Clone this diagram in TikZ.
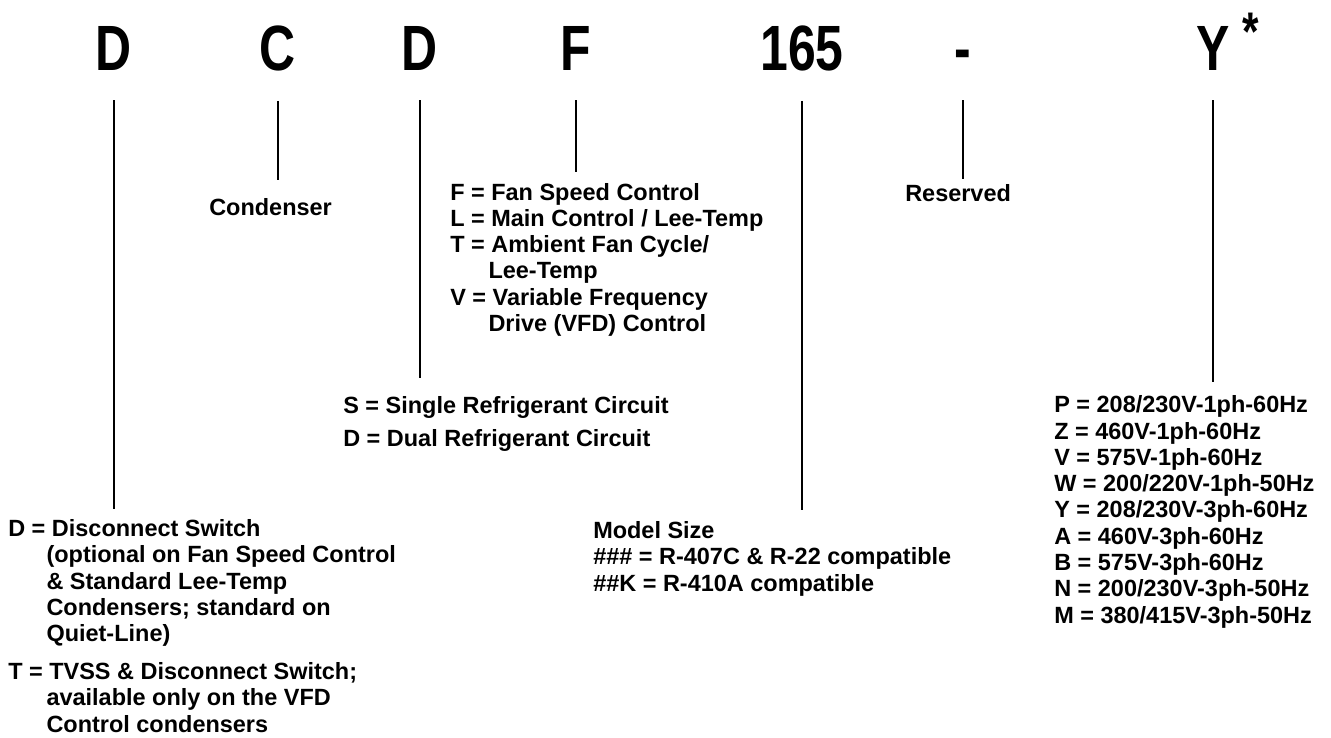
\documentclass[tikz,border=0pt]{standalone}
\usepackage{fontspec}
\setmainfont{Liberation Sans}
\usepackage{tikz}
\usetikzlibrary{arrows.meta}

\tikzset{
  code/.style={font=\bfseries\fontsize{48pt}{48pt}\selectfont,inner sep=0pt,anchor=base},
  lbl/.style={font=\bfseries\fontsize{17.6pt}{19.7pt}\selectfont,inner sep=0pt,anchor=base west,align=left},
  lead/.style={line width=2pt,shorten <=21.75pt}
}
\newcommand{\narrow}[1]{\scalebox{0.78}[1]{#1}}
\newcommand{\ind}{\hspace*{1.63em}}

\begin{document}
\begin{tikzpicture}[x=0.75pt,y=-0.75pt]
\useasboundingbox (0,0) rectangle (1331,738);
% model code
\node[code] (dsw) at (114,71) {\narrow{D}};
\node[code] (cnd) at (278,71) {\narrow{C}};
\node[code] (crc) at (420,71) {\narrow{D}};
\node[code] (fan) at (576,71) {\narrow{F}};
\node[code] (siz) at (802,71) {\narrow{165}};
\node[code] (res) at (963,71) {\narrow{-}};
\node[code] (vlt) at (1213,71) {\narrow{Y}};
\node[code,anchor=north,scale=0.85] (star) at (1251,13) {\narrow{*}};
% labels (multi-line ones sit on their last baseline)
\node[lbl] (dswlbl) at (8,732) {D = Disconnect Switch\\ \ind(optional on Fan Speed Control\\ \ind\& Standard Lee-Temp\\ \ind Condensers; standard on\\ \ind Quiet-Line)\\[8.6pt] T = TVSS \& Disconnect Switch;\\ \ind available only on the VFD\\ \ind Control condensers};
\node[lbl] (cndlbl) at (209,215) {Condenser};
\node[lbl] (crclbl) at (343,446) {S = Single Refrigerant Circuit\\[5pt] D = Dual Refrigerant Circuit};
\node[lbl] (fanlbl) at (450,331.5) {F = Fan Speed Control\\ L = Main Control / Lee-Temp\\ T = Ambient Fan Cycle/\\ \ind Lee-Temp\\ V = Variable Frequency\\ \ind Drive (VFD) Control};
\node[lbl] (sizlbl) at (593,591) {Model Size\\ \#\#\# = R-407C \& R-22 compatible\\ \#\#K = R-410A compatible};
\node[lbl] (reslbl) at (905,201) {Reserved};
\node[lbl] (vltlbl) at (1054,623) {P = 208/230V-1ph-60Hz\\ Z = 460V-1ph-60Hz\\ V = 575V-1ph-60Hz\\ W = 200/220V-1ph-50Hz\\ Y = 208/230V-3ph-60Hz\\ A = 460V-3ph-60Hz\\ B = 575V-3ph-60Hz\\ N = 200/230V-3ph-50Hz\\ M = 380/415V-3ph-50Hz};
% leaders
\draw[lead,shorten >=7.5pt] (dsw.south) -- (dsw.south |- dswlbl.north);
\draw[lead,shorten >=13.5pt] (cnd.south) -- (cnd.south |- cndlbl.north);
\draw[lead,shorten >=13.5pt] (crc.south) -- (crc.south |- crclbl.north);
\draw[lead,shorten >=8.25pt] (fan.south) -- (fan.south |- fanlbl.north);
\draw[lead,shorten >=8.25pt] (siz.south) -- (siz.south |- sizlbl.north);
\draw[lead,shorten >=3.75pt] (res.south) -- (res.south |- reslbl.north);
\draw[lead,shorten >=10.5pt] (vlt.south) -- (vlt.south |- vltlbl.north);
\end{tikzpicture}
\end{document}
